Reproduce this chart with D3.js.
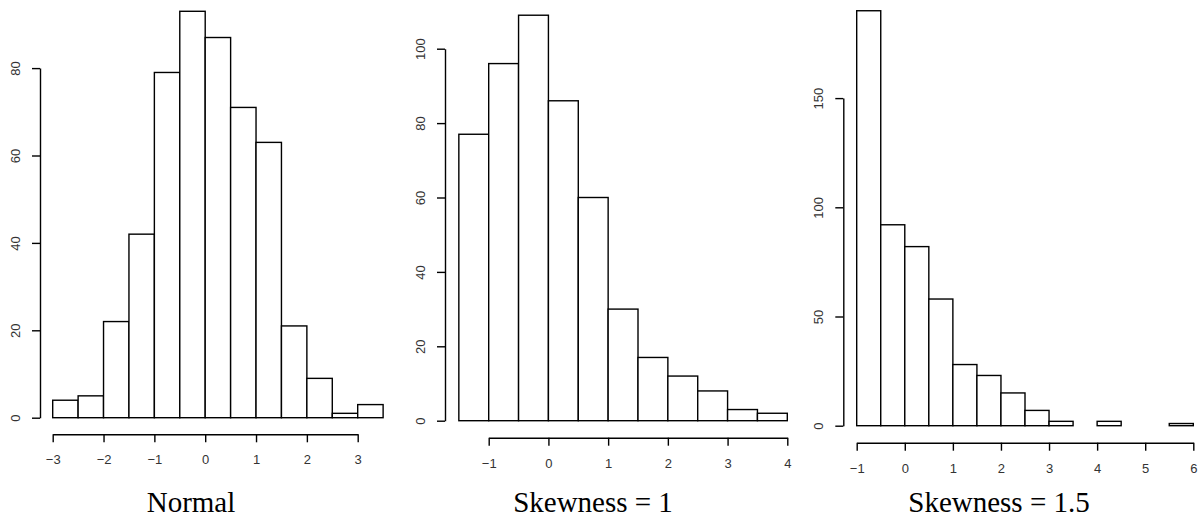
<!DOCTYPE html>
<meta charset="utf-8">
<style>
  body { margin: 0; background: white; }
  svg { background-color: white; display: block; }
  .bar { fill: white; stroke: black; stroke-width: 1.4px; }
  .axis path, .axis line { fill: none; stroke: black; stroke-width: 1.4px; }
  .axis text { font-family: "Liberation Sans", Arial, sans-serif; font-size: 13px; fill: #333; }
  .title { font-family: "Liberation Serif", "Times New Roman", serif; font-size: 29px; fill: black; }
</style>
<body>
<div id="chart"></div>
<script src="https://cdnjs.cloudflare.com/ajax/libs/d3/7.8.5/d3.min.js"></script>
<script>
// histogram bins (left edges, width 0.5) and counts
var normalStart = -3;
var normalCounts = [4, 5, 22, 42, 79, 93, 87, 71, 63, 21, 9, 1, 3];
var normalXTicks = [-3, -2, -1, 0, 1, 2, 3];
var normalYTicks = [0, 20, 40, 60, 80];

var skew1Start = -1.5;
var skew1Counts = [77, 96, 109, 86, 60, 30, 17, 12, 8, 3, 2];
var skew1XTicks = [-1, 0, 1, 2, 3, 4];
var skew1YTicks = [0, 20, 40, 60, 80, 100];

var skew15Start = -1;
var skew15Counts = [190, 92, 82, 58, 28, 23, 15, 7, 2, 0, 2, 0, 0, 1];
var skew15XTicks = [-1, 0, 1, 2, 3, 4, 5, 6];
var skew15YTicks = [0, 50, 100, 150];

var titles = ["Normal", "Skewness = 1", "Skewness = 1.5"];
var binWidth = 0.5;

var width = 1199, height = 517;
var fmt = d3.format("d");

var svg = d3.select("#chart").append("svg")
    .attr("width", width)
    .attr("height", height);

// layout of each panel (pixel placement only)
var panels = [
  {start: normalStart, counts: normalCounts, xTicks: normalXTicks, yTicks: normalYTicks,
   xr: [52.7, 357.7], yr: [417.7, 68.1], yMax: 80, yAxisX: 40, xAxisY: 434.3, titleX: 191, title: titles[0]},
  {start: skew1Start, counts: skew1Counts, xTicks: skew1XTicks, yTicks: skew1YTicks,
   xr: [488.7, 787.3], yr: [420.7, 48.7], yMax: 100, yAxisX: 445, xAxisY: 437.7, titleX: 593, title: titles[1]},
  {start: skew15Start, counts: skew15Counts, xTicks: skew15XTicks, yTicks: skew15YTicks,
   xr: [856.7, 1193.3], yr: [425.7, 98.1], yMax: 150, yAxisX: 843.3, xAxisY: 442.7, titleX: 999, title: titles[2]}
];

panels.forEach(function(p) {
  var xLo = d3.min(p.xTicks), xHi = d3.max(p.xTicks);
  var x = d3.scaleLinear().domain([xLo, xHi]).range(p.xr);
  var y = d3.scaleLinear().domain([0, p.yMax]).range(p.yr);

  var bins = p.counts.map(function(c, i) {
    return {x0: p.start + i * binWidth, x1: p.start + (i + 1) * binWidth, n: c};
  });

  var g = svg.append("g");

  g.selectAll("rect.bar")
    .data(bins)
    .enter()
    .append("rect")
    .attr("class", "bar")
    .attr("x", function(d) { return x(d.x0); })
    .attr("width", function(d) { return x(d.x1) - x(d.x0); })
    .attr("y", function(d) { return y(d.n); })
    .attr("height", function(d) { return y(0) - y(d.n); });

  // x axis, R style: line spans first to last tick
  var xAxis = g.append("g")
    .attr("class", "axis")
    .attr("transform", "translate(0," + p.xAxisY + ")")
    .call(d3.axisBottom(x).tickValues(p.xTicks).tickFormat(fmt).tickSize(8).tickSizeOuter(0));
  xAxis.selectAll("text").attr("y", 30).attr("dy", 0);

  var yAxis = g.append("g")
    .attr("class", "axis")
    .attr("transform", "translate(" + p.yAxisX + ",0)")
    .call(d3.axisLeft(d3.scaleLinear().domain([0, d3.max(p.yTicks)])
      .range([y(0), y(d3.max(p.yTicks))])).tickValues(p.yTicks).tickFormat(fmt).tickSize(8).tickSizeOuter(0));
  yAxis.selectAll("text")
    .attr("x", 0).attr("dy", 0)
    .attr("text-anchor", "middle")
    .attr("transform", "translate(-20,0) rotate(-90)");

  g.append("text")
    .attr("class", "title")
    .attr("x", p.titleX)
    .attr("y", 512)
    .attr("text-anchor", "middle")
    .text(p.title);
});
</script>
</body>
